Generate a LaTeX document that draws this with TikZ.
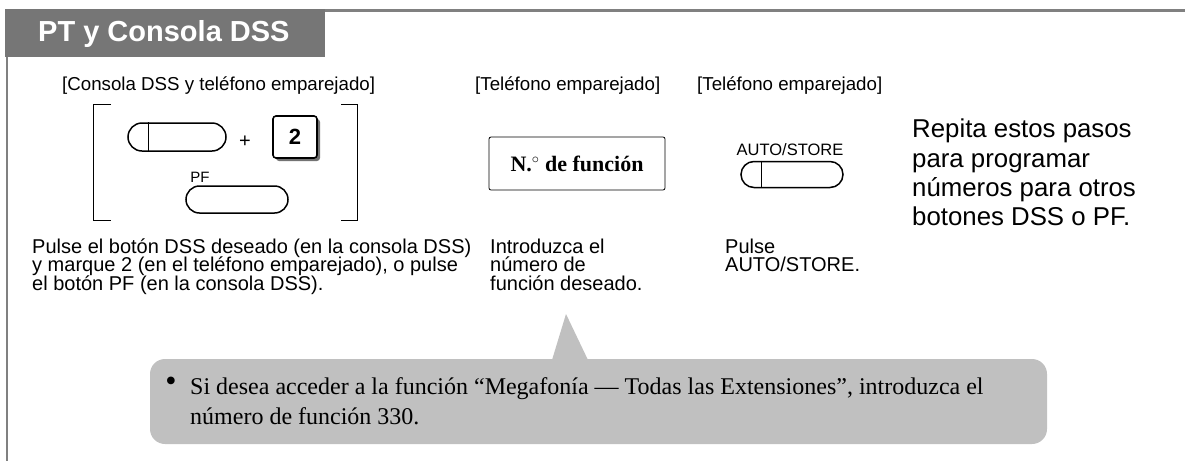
\documentclass[tikz,border=0pt]{standalone}
\usepackage{fontspec}
\setmainfont{Liberation Serif}
\setsansfont{Liberation Sans}
\usetikzlibrary{shadows}
\definecolor{TabGray}{RGB}{118,118,118}
\definecolor{FrameGray}{RGB}{128,128,128}
\definecolor{NoteGray}{RGB}{192,192,192}
\newcommand\bodyfont{\sffamily\fontsize{20}{18.5}\selectfont\setlength{\lineskiplimit}{-20pt}}

\begin{document}
\begin{tikzpicture}[x=1pt,y=-1pt,
    head/.style={inner sep=0pt,anchor=base west,font=\sffamily\fontsize{18.7}{18.7}\selectfont},
    body/.style={inner sep=0pt,anchor=north west,align=left,font=\bodyfont},
    pill/.style={draw,line width=1.5pt,inner sep=0pt}]
  \useasboundingbox (0,0) rectangle (1185,461);
  % frame and title tab
  \fill[TabGray] (5,9) rectangle (325,57);
  \node[inner sep=0pt,anchor=base west,text=white,font=\sffamily\bfseries\fontsize{29}{29}\selectfont] (title) at (38,41) {PT y Consola DSS};
  \draw[FrameGray,line width=2.5pt] (325,10.5) -- (1185,10.5);
  \draw[FrameGray,line width=2pt] (7,57) -- (7,461);

  % step 1
  \node[head] (hdss) at (62,90) {[Consola DSS y teléfono emparejado]};
  \draw[line width=1pt] (111,104) -- (93.5,104) -- (93.5,220.5) -- (111,220.5);
  \draw[line width=1pt] (341,104) -- (357,104) -- (357,220.5) -- (341,220.5);
  \node[pill,rounded corners=14pt,minimum width=98pt,minimum height=28pt] (dss) at (177,137) {};
  \draw[line width=1.5pt] ([xshift=21pt]dss.north west) -- ([xshift=21pt]dss.south west);
  \node[font=\sffamily\fontsize{20}{20}\selectfont] (plus) at (245,142) {+};
  \node[draw,line width=1.6pt,rounded corners=3pt,fill=white,minimum width=44pt,minimum height=42pt,
    drop shadow={shadow xshift=3pt,shadow yshift=-3pt,fill=black!55,opacity=1},
    font=\sffamily\bfseries\fontsize{22}{22}\selectfont] (two) at (295,137) {2};
  \node[font=\sffamily\fontsize{15}{15}\selectfont] (pflbl) at (200,177) {PF};
  \node[pill,rounded corners=13.5pt,minimum width=102pt,minimum height=27pt] (pf) at (237,199.5) {};
  \node[body] (tdss) at (32,238.5) {Pulse el botón DSS deseado (en la consola DSS)\\y marque 2 (en el teléfono emparejado), o pulse\\el botón PF (en la consola DSS).};

  % step 2
  \node[head] (hfunc) at (475,90) {[Teléfono emparejado]};
  \node[draw,line width=0.8pt,rounded corners=2pt,minimum width=176pt,minimum height=53pt,
    font=\bfseries\fontsize{22}{22}\selectfont] (func) at (577,163.5) {N.$^{\circ}$ de función};
  \node[body] (tfunc) at (490,238.5) {Introduzca el\\número de\\función deseado.};

  % step 3
  \node[head] (hauto) at (697,90) {[Teléfono emparejado]};
  \node[inner sep=0pt,anchor=base,font=\sffamily\fontsize{16.5}{16.5}\selectfont] (autolbl) at (790,155) {AUTO/STORE};
  \node[pill,rounded corners=13pt,minimum width=102pt,minimum height=26pt] (auto) at (792,174.5) {};
  \draw[line width=1.5pt] ([xshift=21pt]auto.north west) -- ([xshift=21pt]auto.south west);
  \node[body] (tauto) at (725,238.5) {Pulse\\AUTO/STORE.};

  \node[inner sep=0pt,anchor=north west,align=left,font=\sffamily\fontsize{25.8}{29.3}\selectfont] (repeat) at (912,119) {Repita estos pasos\\para programar\\números para otros\\botones DSS o PF.};

  % note
  \node[fill=NoteGray,rounded corners=15pt,minimum width=897pt,minimum height=85pt] (note) at (598.5,401.5) {};
  \fill[NoteGray] (552,360) -- (566,314) -- (588,360) -- cycle;
  \node[inner sep=0pt,font=\fontsize{32}{32}\selectfont] (dot) at (171,384) {\textbullet};
  \node[inner sep=0pt,anchor=north west,align=left,font=\fontsize{24}{30}\selectfont] (tnote) at (190,377.5) {Si desea acceder a la función “Megafonía — Todas las Extensiones”, introduzca el\\número de función 330.};
\end{tikzpicture}
\end{document}
